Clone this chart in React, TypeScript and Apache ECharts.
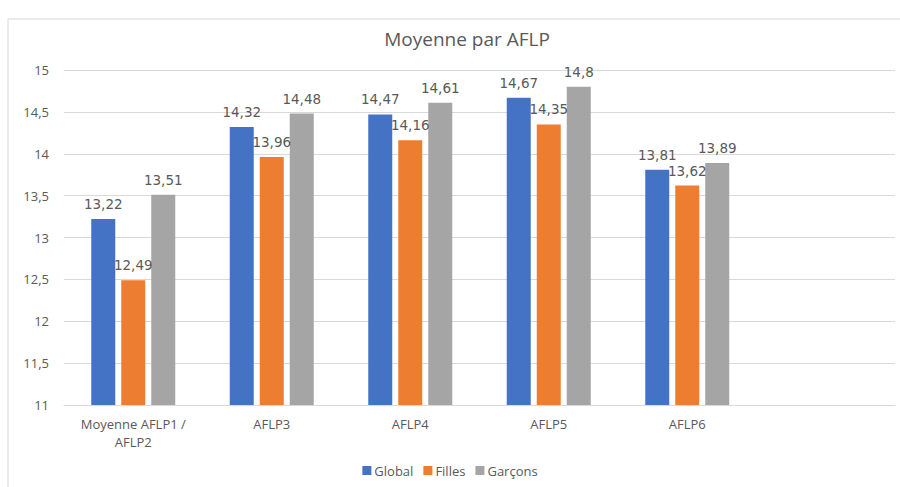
import React, { useEffect, useRef } from "react";
import * as echarts from "echarts";

const categories = ["Moyenne AFLP1 /\nAFLP2", "AFLP3", "AFLP4", "AFLP5", "AFLP6", ""];
const globalVals = [13.22, 14.32, 14.47, 14.67, 13.81, null];
const fillesVals = [12.49, 13.96, 14.16, 14.35, 13.62, null];
const garconsVals = [13.51, 14.48, 14.61, 14.8, 13.89, null];
const seriesNames = ["Global", "Filles", "Garçons"];
const colors = ["#4472C4", "#ED7D31", "#A5A5A5"];

export default function App() {
  const ref = useRef<HTMLDivElement>(null);
  useEffect(() => {
    const chart = echarts.init(ref.current!, undefined, { renderer: "svg" });
    const fmt = (p: any) => String(p.value).replace(".", ",");
    const mk = (name: string, data: any[], color: string) => ({
      name,
      type: "bar",
      data,
      barWidth: 24,
      barGap: "25%",
      itemStyle: { color },
      label: {
        show: true,
        position: "top",
        distance: 8,
        formatter: fmt,
        color: "#595959",
        fontSize: 13.5,
        fontFamily: "DejaVu Sans",
      },
    });
    chart.setOption({
      animation: false,
      title: {
        text: "Moyenne par AFLP",
        left: 462,
        textAlign: "center",
        top: 24,
        textStyle: { fontFamily: "Open Sans", fontSize: 19, fontWeight: "normal", color: "#595959" },
      },
      legend: {
        data: seriesNames,
        bottom: 5,
        left: "center",
        itemWidth: 9,
        itemHeight: 9,
        itemGap: 10,
        icon: "rect",
        textStyle: { fontFamily: "Open Sans", fontSize: 13, color: "#595959", padding: [0, 0, 0, -2] },
      },
      grid: { left: 64, right: 5, top: 70, bottom: 82, containLabel: false },
      xAxis: {
        type: "category",
        data: categories,
        axisLine: { lineStyle: { color: "#d9d9d9", width: 1 } },
        axisTick: { show: false },
        axisLabel: {
          color: "#595959",
          fontSize: 13,
          fontFamily: "Open Sans",
          margin: 10,
          lineHeight: 18,
          interval: 0,
        },
      },
      yAxis: {
        type: "value",
        min: 11,
        max: 15,
        interval: 0.5,
        axisLine: { show: false },
        axisTick: { show: false },
        splitLine: { lineStyle: { color: "#d9d9d9", width: 1 } },
        axisLabel: {
          color: "#595959",
          fontSize: 13,
          fontFamily: "Open Sans",
          margin: 15,
          formatter: (v: number) => String(v).replace(".", ","),
        },
      },
      graphic: [
        {
          type: "rect",
          shape: { x: 8, y: 19, width: 895, height: 480 },
          style: { fill: "none", stroke: "#d9d9d9", lineWidth: 1 },
          silent: true,
          z: -1,
        },
      ],
      series: [
        mk(seriesNames[0], globalVals, colors[0]),
        mk(seriesNames[1], fillesVals, colors[1]),
        mk(seriesNames[2], garconsVals, colors[2]),
      ],
    });
    return () => chart.dispose();
  }, []);
  return <div ref={ref} style={{ width: 900, height: 487, position: "absolute", left: 0, top: 0 }} />;
}
